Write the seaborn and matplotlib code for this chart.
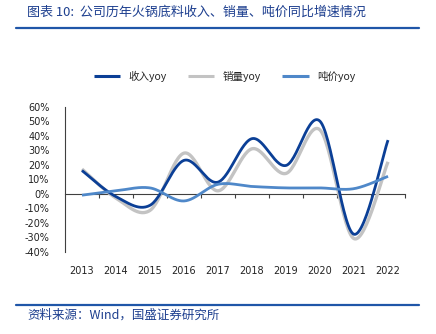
import numpy as np
import pandas as pd
import seaborn as sns
import matplotlib.pyplot as plt
from matplotlib.lines import Line2D

years = ['2013', '2014', '2015', '2016', '2017', '2018', '2019', '2020', '2021', '2022']
revenue_yoy = [16, -2, -8, 23, 8, 38, 19.5, 50, -28, 37]
volume_yoy = [17, -3, -11.5, 28, 2, 31, 14, 44, -31, 22]
price_yoy = [-1, 2, 4, -5, 6.5, 5, 4, 4, 3.5, 12]

series_names = ['收入yoy', '销量yoy', '吨价yoy']
series_values = [revenue_yoy, volume_yoy, price_yoy]
colors = {'收入yoy': '#0b3f96', '销量yoy': '#c3c3c3', '吨价yoy': '#4f88c9'}
widths = {'收入yoy': 2.0, '销量yoy': 2.4, '吨价yoy': 2.0}


def smooth(x, y, n=30):
    """Catmull-Rom spline through the points (smoothed line rendering)."""
    x = np.asarray(x, float)
    y = np.asarray(y, float)
    px = np.concatenate([[x[0]], x, [x[-1]]])
    py = np.concatenate([[y[0]], y, [y[-1]]])
    xs, ys = [], []
    for i in range(1, len(px) - 2):
        p0, p1, p2, p3 = px[i - 1], px[i], px[i + 1], px[i + 2]
        q0, q1, q2, q3 = py[i - 1], py[i], py[i + 1], py[i + 2]
        t = np.linspace(0, 1, n, endpoint=False)
        # Bezier control points
        c1x, c1y = p1 + (p2 - p0) / 6, q1 + (q2 - q0) / 6
        c2x, c2y = p2 - (p3 - p1) / 6, q2 - (q3 - q1) / 6
        bx = (1 - t) ** 3 * p1 + 3 * (1 - t) ** 2 * t * c1x + 3 * (1 - t) * t ** 2 * c2x + t ** 3 * p2
        by = (1 - t) ** 3 * q1 + 3 * (1 - t) ** 2 * t * c1y + 3 * (1 - t) * t ** 2 * c2y + t ** 3 * q2
        xs.append(bx)
        ys.append(by)
    xs.append([x[-1]])
    ys.append([y[-1]])
    return np.concatenate(xs), np.concatenate(ys)


sns.set_theme(style='white')
plt.rcParams['font.family'] = ['DejaVu Sans', 'Noto Sans CJK SC']

fig = plt.figure(figsize=(4.36, 3.34), dpi=100)
ax = fig.add_axes([0.149, 0.2464, 0.780, 0.434])

idx = np.arange(len(years))
frames = []
for name, vals in zip(series_names, series_values):
    sx, sy = smooth(idx, vals)
    frames.append(pd.DataFrame({'x': sx, 'y': sy, 'series': name}))
df = pd.concat(frames, ignore_index=True)

for name in ['销量yoy', '收入yoy', '吨价yoy']:
    sub = df[df['series'] == name]
    sns.lineplot(data=sub, x='x', y='y', ax=ax, color=colors[name],
                 linewidth=widths[name], sort=False, estimator=None,
                 solid_capstyle='butt', legend=False)

ax.set_xlim(-0.5, len(years) - 0.5)
ax.set_ylim(-40, 60)
ax.set_yticks(np.arange(-40, 61, 10))
ax.set_yticklabels([f'{v}%' for v in range(-40, 61, 10)])
ax.set_xticks(idx)
ax.set_xticklabels(years)
ax.set_xlabel('')
ax.set_ylabel('')

for s in ['top', 'right', 'bottom']:
    ax.spines[s].set_visible(False)
ax.spines['left'].set_color('#404040')
ax.spines['left'].set_linewidth(0.8)
ax.tick_params(axis='y', direction='out', length=3, width=0.8, color='#404040',
               labelsize=7, pad=8, labelcolor='#222222')
ax.tick_params(axis='x', length=0, labelsize=7, pad=10, labelcolor='#222222')

# horizontal axis line at zero with boundary tick marks
sec = ax.secondary_xaxis(0.4)
sec.set_xticks(np.arange(0.5, len(years), 1.0))
sec.set_xticklabels([])
sec.spines['bottom'].set_color('#404040')
sec.spines['bottom'].set_linewidth(0.8)
sec.tick_params(axis='x', direction='out', length=3, width=0.8, color='#404040')

# legend
handles = [Line2D([], [], color=colors[n], linewidth=2.2, solid_capstyle='butt')
           for n in series_names]
leg = fig.legend(handles, series_names, loc='center', bbox_to_anchor=(0.515, 0.772),
                 ncol=3, frameon=False, handlelength=2.5, handletextpad=0.8,
                 columnspacing=2.0, prop={'family': ['Noto Sans CJK SC'], 'size': 7.6})

# title, rules and source note
title_color = '#1d3f8f'
fig.text(0.062, 0.962, '图表 10:  公司历年火锅底料收入、销量、吨价同比增速情况',
         fontsize=9.4, color=title_color, family=['Noto Sans CJK SC'],
         style='italic', va='center', ha='left')
fig.add_artist(Line2D([0.037, 0.961], [0.916, 0.916], transform=fig.transFigure,
                      color='#1f56a8', linewidth=1.6))
fig.add_artist(Line2D([0.037, 0.961], [0.087, 0.087], transform=fig.transFigure,
                      color='#1f56a8', linewidth=1.6))
fig.text(0.062, 0.055, '资料来源：Wind，国盛证券研究所',
         fontsize=9, color=title_color, family=['Noto Sans CJK SC'],
         style='italic', va='center', ha='left')

fig.savefig('out.png', dpi=100)
